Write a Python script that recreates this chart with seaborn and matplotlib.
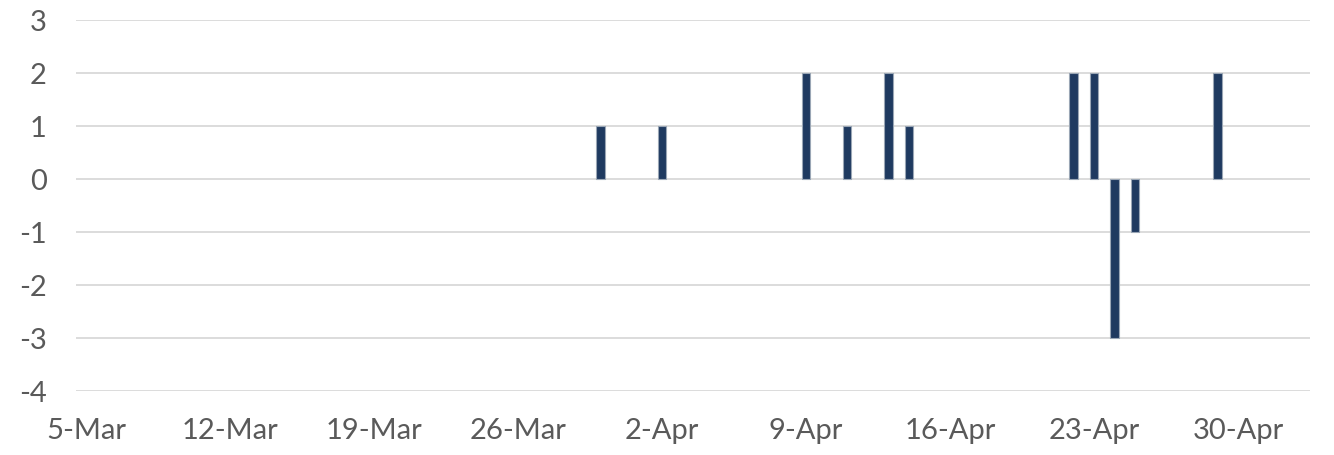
import matplotlib
matplotlib.use("Agg")
import matplotlib.pyplot as plt
import seaborn as sns
import pandas as pd

# values
dates = ["2018-03-30", "2018-04-02", "2018-04-09", "2018-04-11", "2018-04-13",
         "2018-04-14", "2018-04-22", "2018-04-23", "2018-04-24", "2018-04-25",
         "2018-04-29"]
values = [1, 1, 2, 1, 2, 1, 2, 2, -3, -1, 2]
start, end = "2018-03-05", "2018-05-03"
y_ticks = [-4, -3, -2, -1, 0, 1, 2, 3]

sns.set_theme(style="white")
plt.rcParams['font.family'] = ['Lato', 'DejaVu Sans']
plt.rcParams['axes.unicode_minus'] = False

days = pd.date_range(start, end, freq="D")
s = pd.Series(values, index=pd.to_datetime(dates)).reindex(days, fill_value=0)
df = pd.DataFrame({"day": [d.strftime("%Y-%m-%d") for d in days], "val": s.values})

fig, ax = plt.subplots(figsize=(13.34, 4.55), dpi=100)
fig.subplots_adjust(left=0.057, right=0.982, top=0.955, bottom=0.14)

sns.barplot(data=df, x="day", y="val", color="#1f3a60", width=0.4,
            saturation=1, linewidth=0.8, edgecolor="#9aa6b5", ax=ax)
for p, v in zip(ax.patches, df["val"]):
    if v == 0:
        p.set_linewidth(0)

ax.set_ylim(-4, 3)
ax.set_yticks(y_ticks)
ax.set_xlim(-0.5, len(days) - 0.5)
tick_pos = list(range(0, len(days), 7))
ax.set_xticks(tick_pos)
ax.set_xticklabels([f"{days[i].day}-{days[i].strftime('%b')}" for i in tick_pos])
ax.yaxis.grid(True, color="#d9d9d9", linewidth=1.3)
ax.set_axisbelow(True)
for sp in ax.spines.values():
    sp.set_visible(False)
ax.tick_params(axis="both", length=0, labelsize=21, colors="#5a5a5a")
ax.tick_params(axis="x", pad=19)
ax.tick_params(axis="y", pad=21)
ax.set_xlabel("")
ax.set_ylabel("")

fig.savefig("out.png", dpi=100)
